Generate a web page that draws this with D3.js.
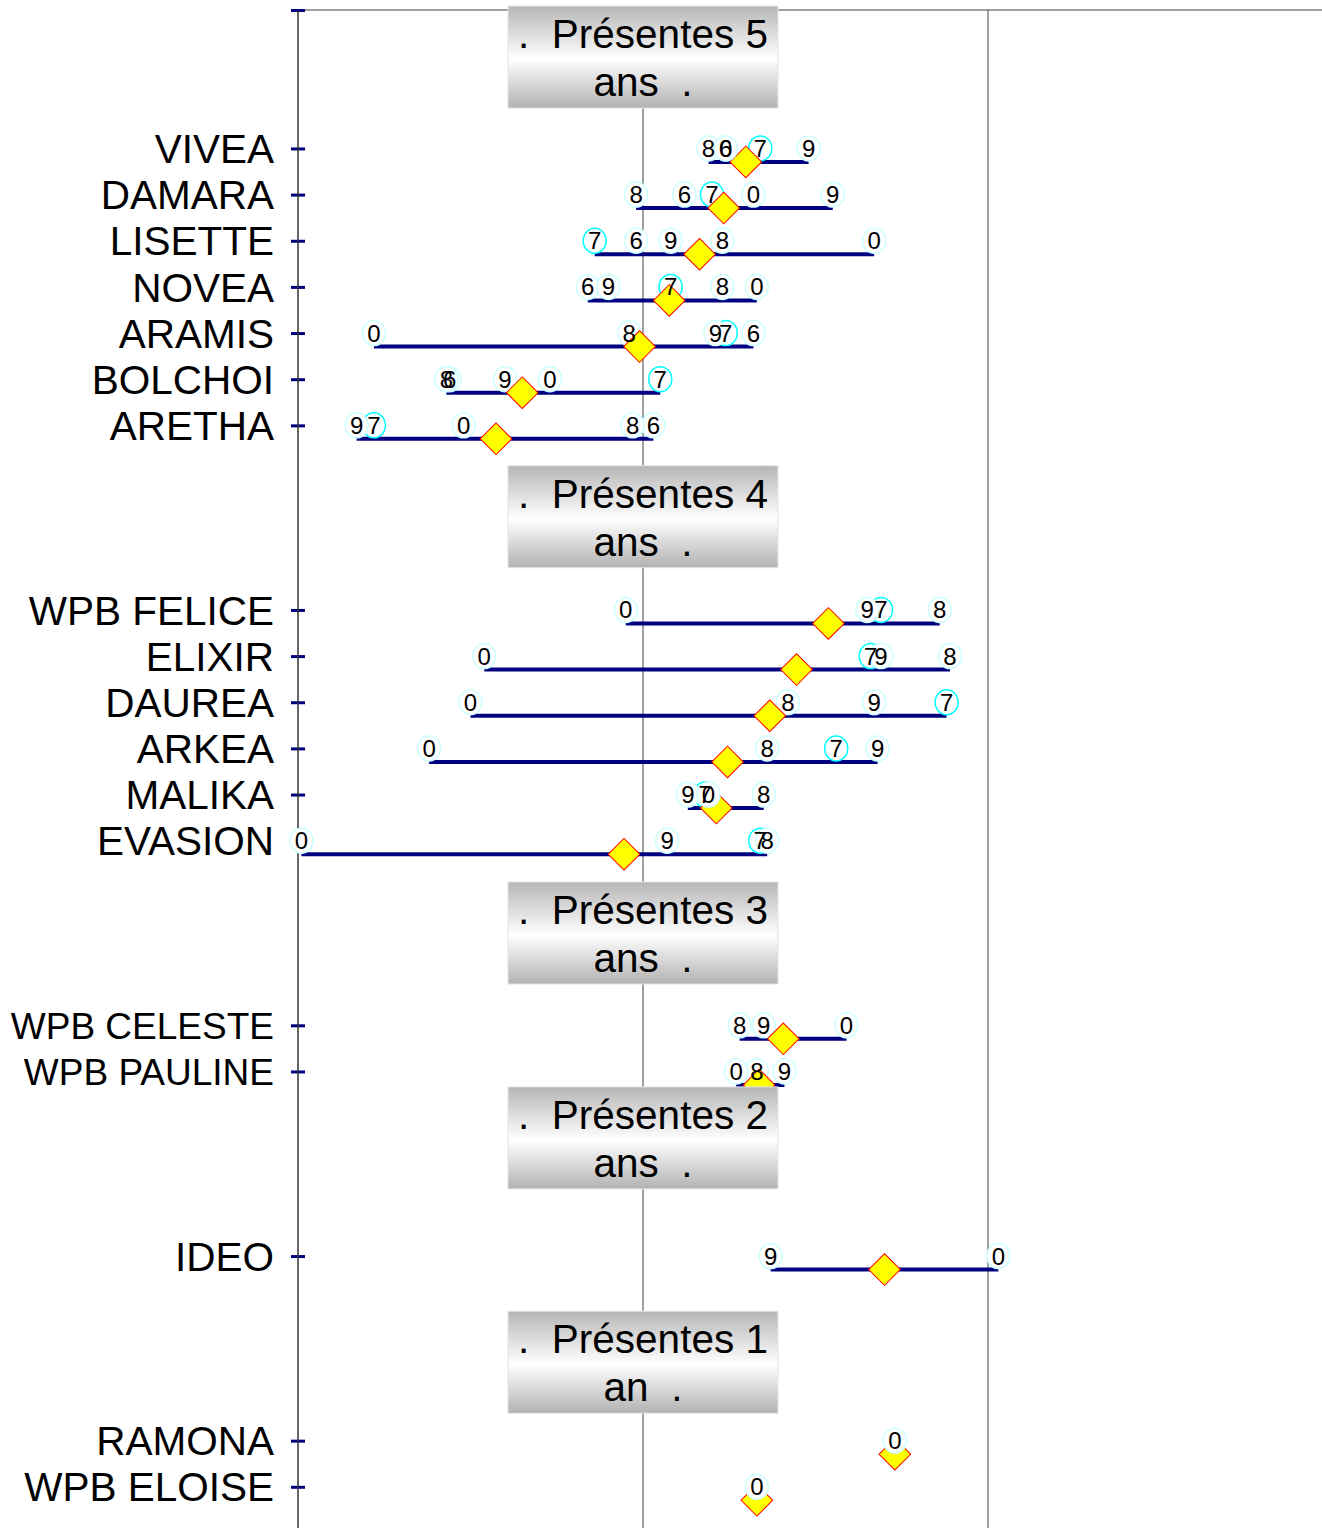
<!DOCTYPE html>
<html>
<head>
<meta charset="utf-8">
<script src="https://cdn.jsdelivr.net/npm/d3@7"></script>
<style>
  body { margin: 0; background: #fff; }
  text { font-family: "Liberation Sans", Arial, sans-serif; }
</style>
</head>
<body>
<div class="chart"></div>
<script>
// row slots, empty strings leave room for the group boxes
const categories = ["", "", "", "VIVEA", "DAMARA", "LISETTE", "NOVEA", "ARAMIS", "BOLCHOI", "ARETHA",
    "", "", "", "WPB FELICE", "ELIXIR", "DAUREA", "ARKEA", "MALIKA", "EVASION",
    "", "", "", "WPB CELESTE", "WPB PAULINE", "", "", "", "IDEO", "", "", "", "RAMONA", "WPB ELOISE"];

const varieties = ["VIVEA", "DAMARA", "LISETTE", "NOVEA", "ARAMIS", "BOLCHOI", "ARETHA",
    "WPB FELICE", "ELIXIR", "DAUREA", "ARKEA", "MALIKA", "EVASION",
    "WPB CELESTE", "WPB PAULINE", "IDEO", "RAMONA", "WPB ELOISE"];

// yield index per year (label digit = last digit of the year)
const v2006 = [102.4, 101.2, 99.8, 98.4, 103.2, 94.4, 100.3,
    null, null, null, null, null, null, null, null, null, null, null];
const v2007 = [103.4, 102.0, 98.6, 100.8, 102.4, 100.5, 92.2,
    106.9, 106.6, 108.8, 105.6, 101.8, 103.4, null, null, null, null, null];
const v2008 = [101.9, 99.8, 102.3, 102.3, 99.6, 94.3, 99.7,
    108.6, 108.9, 104.2, 103.6, 103.5, 103.6, 102.8, 103.3, null, null, null];
const v2009 = [104.8, 105.5, 100.8, 99.0, 102.1, 96.0, 91.7,
    106.5, 106.9, 106.7, 106.8, 101.3, 100.7, 103.5, 104.1, 103.7, null, null];
const v2010 = [102.4, 103.2, 106.7, 103.3, 92.2, 97.3, 94.8,
    99.5, 95.4, 95.0, 93.8, 101.9, 90.1, 105.9, 102.7, 110.3, 107.3, 103.3];

const years = [
    {digit: "6", values: v2006},
    {digit: "7", values: v2007},
    {digit: "8", values: v2008},
    {digit: "9", values: v2009},
    {digit: "0", values: v2010}
];

const groupLine1 = [".  Présentes 5", ".  Présentes 4", ".  Présentes 3", ".  Présentes 2", ".  Présentes 1"];
const groupLine2 = ["ans  .", "ans  .", "ans  .", "ans  .", "an  ."];
const groupSlots = [1.02, 10.98, 20.0, 24.44, 29.3];

const width = 1322, height = 1528;
const svg = d3.select(".chart").append("svg")
    .attr("width", width)
    .attr("height", height);

const xScale = d3.scaleLinear().domain([90, 120]).range([298, 1333]);
const yScale = d3.scaleLinear().domain([0, 33]).range([10, 10 + 33 * 46.15]);

const defs = svg.append("defs");
const grad = defs.append("linearGradient")
    .attr("id", "boxfill")
    .attr("x1", 0).attr("y1", 0).attr("x2", 0).attr("y2", 1);
grad.append("stop").attr("offset", "0%").attr("stop-color", "#b6b6b6");
grad.append("stop").attr("offset", "52%").attr("stop-color", "#ffffff");
grad.append("stop").attr("offset", "100%").attr("stop-color", "#b2b2b2");

// vertical gridlines
svg.selectAll(".grid")
    .data([100, 110])
    .enter()
    .append("line")
    .attr("class", "grid")
    .attr("x1", d => xScale(d)).attr("x2", d => xScale(d))
    .attr("y1", yScale(0)).attr("y2", height)
    .attr("stroke", "#808080")
    .attr("stroke-width", 1.5);

// top border of plot area
svg.append("line")
    .attr("x1", xScale(90)).attr("x2", width)
    .attr("y1", yScale(0)).attr("y2", yScale(0))
    .attr("stroke", "#404040")
    .attr("stroke-width", 1);

// y axis
const tickIdx = [0].concat(categories.map((c, i) => c ? i : -1).filter(i => i >= 0));
const yAxis = d3.axisLeft(yScale)
    .tickValues(tickIdx)
    .tickFormat(i => categories[i])
    .tickSize(7);

const axisG = svg.append("g")
    .attr("transform", `translate(${xScale(90)},0)`)
    .call(yAxis);
axisG.select(".domain").remove();
axisG.append("line")
    .attr("x1", 0).attr("x2", 0)
    .attr("y1", yScale(0)).attr("y2", height)
    .attr("stroke", "#333")
    .attr("stroke-width", 1.5);
axisG.selectAll(".tick line")
    .attr("x1", -7).attr("x2", 7)
    .attr("stroke", "#000080")
    .attr("stroke-width", 3);
axisG.selectAll(".tick text")
    .attr("x", -24)
    .attr("dy", "0.35em")
    .attr("fill", "#000")
    .style("font-family", "'Liberation Sans', Arial, sans-serif")
    .style("font-size", "40.5px")
    .each(function() {
        // the longest names come out in a smaller size
        if (this.getComputedTextLength() > 264) d3.select(this).style("font-size", "37px");
    });

// one record per variety
const rows = varieties.map((name, k) => {
    const vals = years.map(yr => yr.values[k]).filter(v => v != null);
    return {
        name: name,
        slot: categories.indexOf(name),
        min: d3.min(vals),
        max: d3.max(vals),
        mean: d3.mean(vals)
    };
});

const barOffset = 13.5;

svg.selectAll(".bar")
    .data(rows.filter(r => r.max > r.min))
    .enter()
    .append("line")
    .attr("class", "bar")
    .attr("x1", d => xScale(d.min)).attr("x2", d => xScale(d.max))
    .attr("y1", d => yScale(d.slot) + barOffset).attr("y2", d => yScale(d.slot) + barOffset)
    .attr("stroke", "#000080")
    .attr("stroke-width", 4);

function yearPoints(yr) {
    return varieties.map((name, k) => ({name: name, slot: categories.indexOf(name), v: yr.values[k], digit: yr.digit}))
        .filter(p => p.v != null);
}

function drawRings(yr) {
    svg.append("g").selectAll("ellipse")
        .data(yearPoints(yr))
        .enter()
        .append("ellipse")
        .attr("cx", d => xScale(d.v))
        .attr("cy", d => yScale(d.slot))
        .attr("rx", 11.5)
        .attr("ry", 12.5)
        .attr("fill", "#fff")
        .attr("stroke", yr.digit === "7" ? "#00ffff" : "#ccffff")
        .attr("stroke-width", 1.5);
}

years.slice(0, 4).forEach(drawRings);

// mean diamonds
svg.selectAll(".avg")
    .data(rows)
    .enter()
    .append("path")
    .attr("class", "avg")
    .attr("d", d3.symbol(d3.symbolSquare, 500))
    .attr("transform", d => `translate(${xScale(d.mean)},${yScale(d.slot) + barOffset}) rotate(45)`)
    .attr("fill", "#ffff00")
    .attr("stroke", "#ff0000")
    .attr("stroke-width", 1);

drawRings(years[4]);

// year digits
years.forEach(yr => {
    svg.append("g").selectAll("text")
        .data(yearPoints(yr))
        .enter()
        .append("text")
        .attr("x", d => xScale(d.v))
        .attr("y", d => yScale(d.slot) + 8.5)
        .attr("text-anchor", "middle")
        .attr("font-size", "24px")
        .attr("fill", "#000")
        .text(d => d.digit);
});

// group title boxes
const boxes = svg.selectAll(".group")
    .data(groupSlots)
    .enter()
    .append("g")
    .attr("class", "group")
    .attr("transform", d => `translate(${xScale(100)},${yScale(d)})`);

boxes.append("rect")
    .attr("x", -135).attr("y", -51)
    .attr("width", 270).attr("height", 102)
    .attr("fill", "url(#boxfill)")
    .attr("stroke", "#e4e4e4")
    .attr("stroke-width", 1);

boxes.append("text")
    .attr("y", -9)
    .attr("text-anchor", "middle")
    .attr("font-size", "40.5px")
    .style("white-space", "pre")
    .text((d, i) => groupLine1[i]);

boxes.append("text")
    .attr("y", 39)
    .attr("text-anchor", "middle")
    .attr("font-size", "40.5px")
    .style("white-space", "pre")
    .text((d, i) => groupLine2[i]);
</script>
</body>
</html>
